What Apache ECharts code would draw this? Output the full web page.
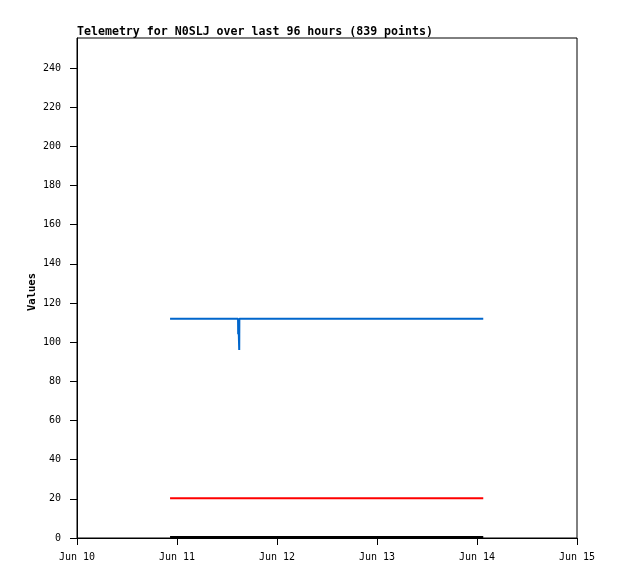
<!DOCTYPE html>
<html>
<head>
<meta charset="utf-8">
<script src="https://cdn.jsdelivr.net/npm/echarts@6/dist/echarts.min.js"></script>
<style>html,body{margin:0;padding:0;background:#fff}#c{width:618px;height:579px}</style>
</head>
<body>
<div id="c"></div>
<script>
const titleText = 'Telemetry for N0SLJ over last 96 hours (839 points)';
const yAxisName = 'Values';
const xTickLabels = ['Jun 10', 'Jun 11', 'Jun 12', 'Jun 13', 'Jun 14', 'Jun 15'];
const xStart = '2024-06-10T00:00:00Z';
const xEnd = '2024-06-15T00:00:00Z';

const blueTimes = ['2024-06-10T22:20:00Z', '2024-06-11T14:39:00Z', '2024-06-11T14:41:00Z', '2024-06-11T14:44:00Z', '2024-06-11T14:56:00Z', '2024-06-11T14:58:00Z', '2024-06-14T01:30:00Z'];
const blueValues = [112, 112, 104, 112, 96, 112, 112];
const redTimes = ['2024-06-10T22:20:00Z', '2024-06-14T01:30:00Z'];
const redValues = [20.3, 20.3];
const blackTimes = ['2024-06-10T22:20:00Z', '2024-06-14T01:30:00Z'];
const blackValues = [0.5, 0.5];

const DAY = 86400000;
const toPairs = (ts, vs) => ts.map((t, i) => [Date.parse(t), vs[i]]);
const font = '"DejaVu Sans Mono", "Liberation Mono", monospace';

const chart = echarts.init(document.getElementById('c'), null, {renderer: 'canvas'});
chart.setOption({
  animation: false,
  backgroundColor: '#fff',
  title: {
    text: titleText, left: 72, top: 21,
    textStyle: {fontFamily: font, fontSize: 11.6, fontWeight: 'bold', color: '#000'}
  },
  grid: {left: 77, right: 41, top: 38, bottom: 41, show: true, borderColor: '#000', borderWidth: 1, backgroundColor: '#fff'},
  xAxis: {
    type: 'value', min: Date.parse(xStart), max: Date.parse(xEnd), interval: DAY,
    axisLine: {show: true, lineStyle: {color: '#000', width: 1}},
    axisTick: {show: true, inside: false, length: 7, lineStyle: {color: '#000'}},
    splitLine: {show: false},
    axisLabel: {
      margin: 14, color: '#000', fontFamily: font, fontSize: 10,
      formatter: v => xTickLabels[Math.round((v - Date.parse(xStart)) / DAY)] || ''
    }
  },
  yAxis: {
    type: 'value', min: 0, max: 255.3, interval: 20,
    name: yAxisName, nameLocation: 'middle', nameGap: 39, nameMoveOverlap: false,
    nameTextStyle: {fontFamily: font, fontSize: 10.5, fontWeight: 'bold', color: '#000', padding: [0, 8, 0, 0]},
    axisLine: {show: true, lineStyle: {color: '#000', width: 1}},
    axisTick: {show: true, length: 7, lineStyle: {color: '#000'}},
    splitLine: {show: false},
    axisLabel: {
      margin: 16, color: '#000', fontFamily: font, fontSize: 10, showMaxLabel: false,
      formatter: v => (v % 20 === 0 ? String(v) : '')
    }
  },
  series: [
    {type: 'line', data: toPairs(blueTimes, blueValues), showSymbol: false, lineStyle: {color: '#0066cc', width: 2}, itemStyle: {color: '#0066cc'}},
    {type: 'line', data: toPairs(redTimes, redValues), showSymbol: false, lineStyle: {color: '#ff0000', width: 2}, itemStyle: {color: '#ff0000'}},
    {type: 'line', data: toPairs(blackTimes, blackValues), showSymbol: false, lineStyle: {color: '#000000', width: 2}, itemStyle: {color: '#000'}}
  ]
});
</script>
</body>
</html>
